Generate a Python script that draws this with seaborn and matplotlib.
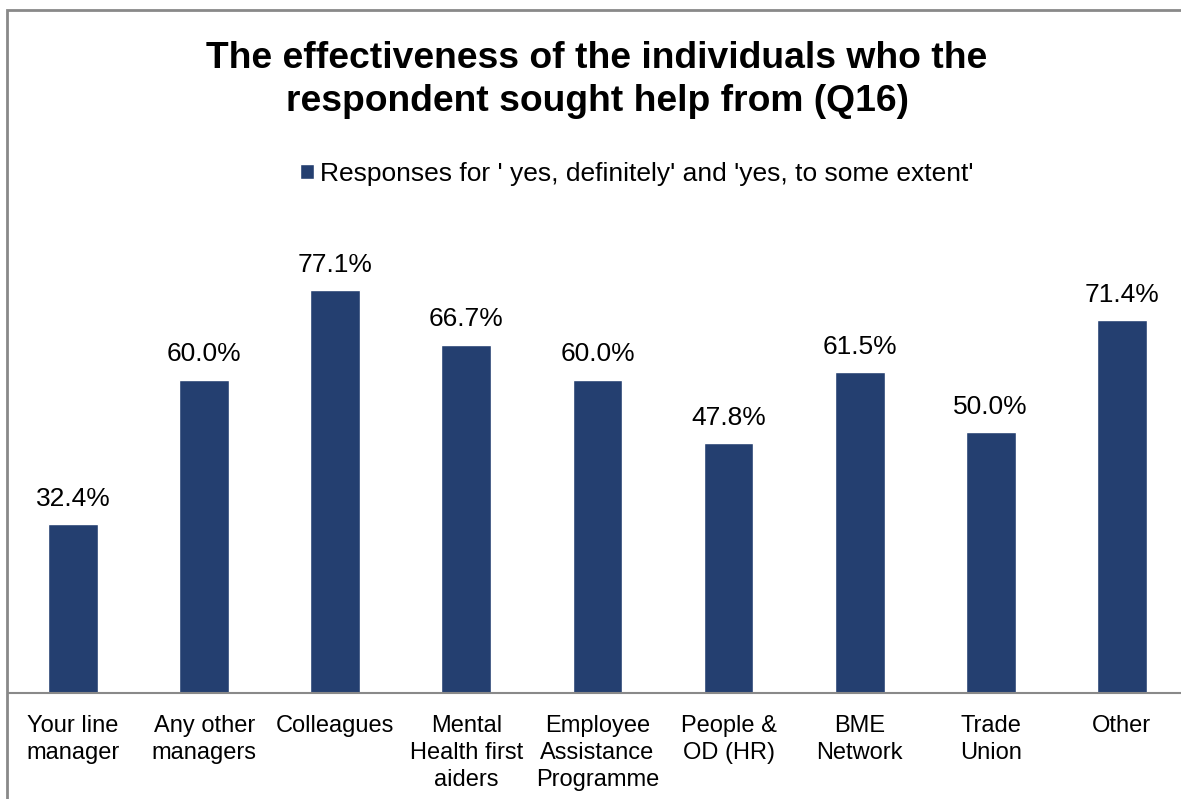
import matplotlib
matplotlib.use("Agg")
import matplotlib.pyplot as plt
import seaborn as sns
import pandas as pd
from matplotlib.patches import Rectangle, Patch

categories = ["Your line\nmanager", "Any other\nmanagers", "Colleagues",
              "Mental\nHealth first\naiders", "Employee\nAssistance\nProgramme",
              "People &\nOD (HR)", "BME\nNetwork", "Trade\nUnion", "Other"]
values = [32.4, 60.0, 77.1, 66.7, 60.0, 47.8, 61.5, 50.0, 71.4]
series_name = "Responses for ' yes, definitely' and 'yes, to some extent'"
title = "The effectiveness of the individuals who the\nrespondent sought help from (Q16)"

sns.set_theme(style="white")
plt.rcParams['font.family'] = ['Liberation Sans', 'DejaVu Sans']
plt.rcParams['text.color'] = 'black'
plt.rcParams['xtick.color'] = 'black'

bar_color = "#243F70"
grey = "#898989"

fig = plt.figure(figsize=(11.81, 7.99), dpi=100)
W, H = 1181, 799
ax_left = 7.5 / W
ax_w = 9 * 131.1 / W
ax_bottom = (H - 693) / H
ax_h = 470 / H
ax = fig.add_axes([ax_left, ax_bottom, ax_w, ax_h])

df = pd.DataFrame({"cat": categories, "val": values})
sns.barplot(data=df, x="cat", y="val", color=bar_color, width=0.38, ax=ax,
            saturation=1)
ax.set_xlim(-0.5, 8.5)
ax.set_ylim(0, 90)
ax.set_xlabel("")
ax.set_ylabel("")
ax.set_yticks([])
for s in ["top", "right", "left"]:
    ax.spines[s].set_visible(False)
ax.spines["bottom"].set_color(grey)
ax.spines["bottom"].set_linewidth(1.5)

ax.set_xticks(range(len(categories)))
ax.set_xticklabels(categories, fontsize=17, linespacing=1.32, color="black")
ax.tick_params(axis="x", which="major", length=0, pad=15.5)
ax.set_xticks([i + 0.5 for i in range(-1, len(categories))], minor=True)
ax.tick_params(axis="x", which="minor", length=6, width=1.5, color=grey, direction="out")

for c in ax.containers:
    ax.bar_label(c, labels=[f"{v:.1f}%" for v in values], padding=9.5, fontsize=19,
                 color="black")

fig.text(597 / W, 1 - 80 / H, title, ha="center", va="center", fontsize=26.8,
         fontweight="bold", linespacing=1.33, color="black")

leg = fig.legend(handles=[Patch(facecolor=bar_color, label=series_name)],
                 loc="center", bbox_to_anchor=(637 / W, 1 - 174 / H), frameon=False,
                 fontsize=19, handlelength=0.5, handleheight=0.5, handletextpad=0.25)
for t in leg.get_texts():
    t.set_color("black")

fig.patches.append(Rectangle((7 / W, -0.1), 1.2, (1 - 10 / H) + 0.1,
                             transform=fig.transFigure, fill=False,
                             edgecolor=grey, linewidth=2, figure=fig))

fig.savefig("out.png", dpi=100)
